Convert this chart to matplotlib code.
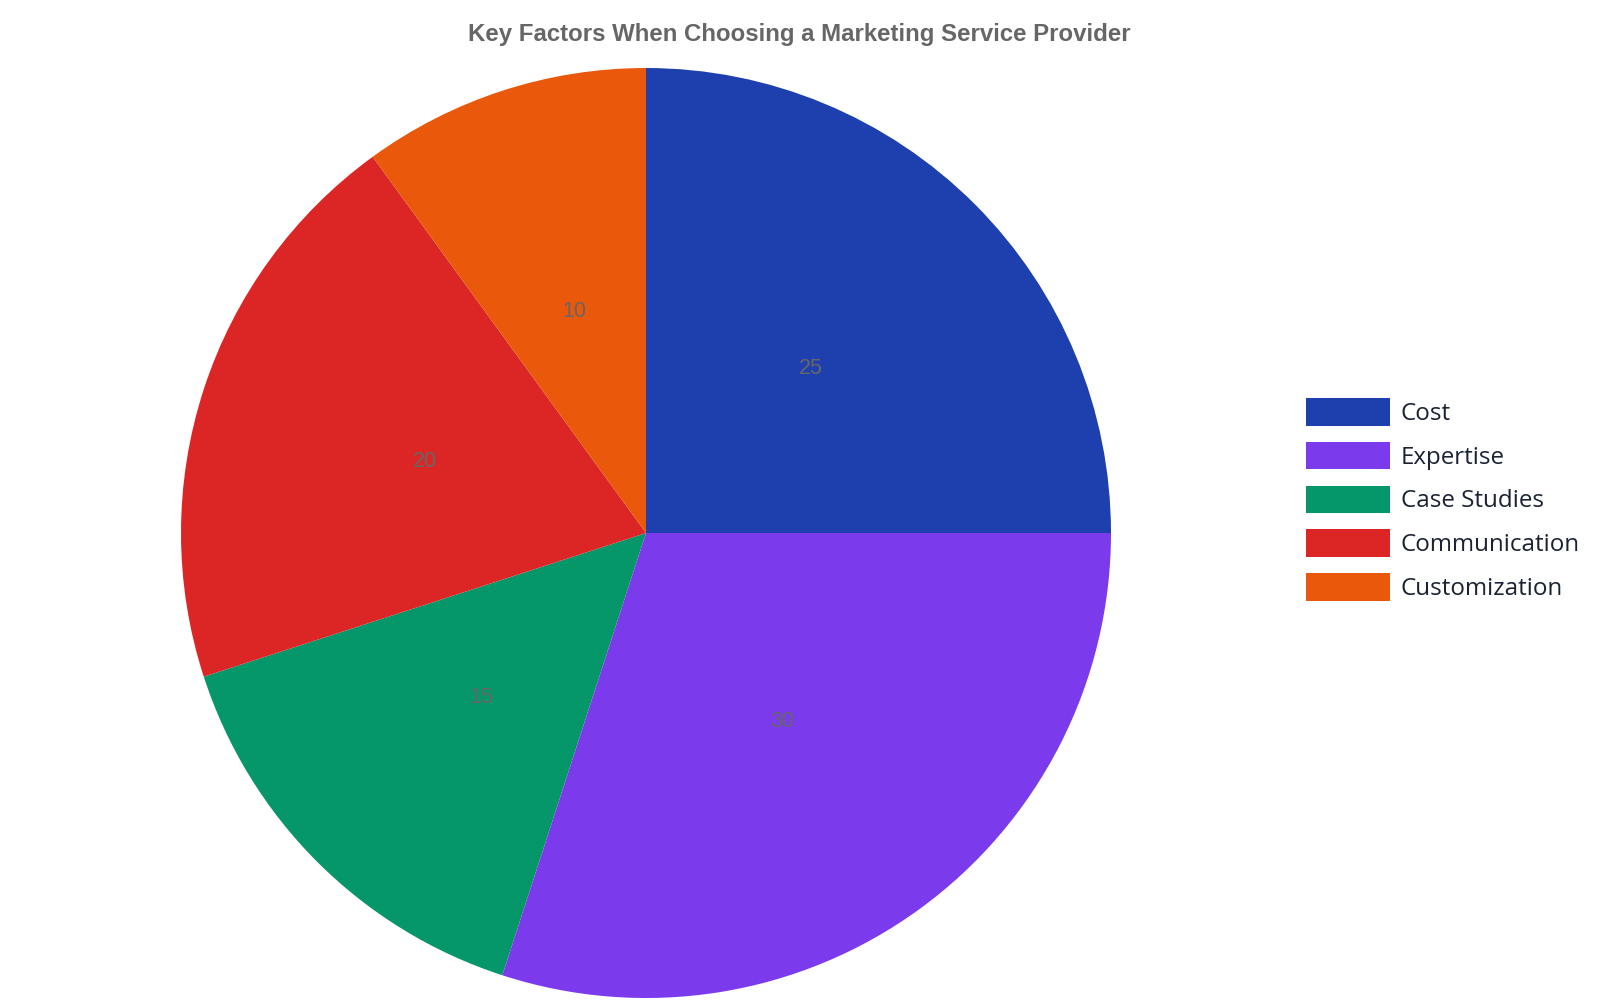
import matplotlib
matplotlib.use('Agg')
import matplotlib.pyplot as plt
from matplotlib.patches import Patch

# data
categories = ['Cost', 'Expertise', 'Case Studies', 'Communication', 'Customization']
values = [25, 30, 15, 20, 10]
colors = ['#1e40af', '#7c3aed', '#059669', '#dc2626', '#ea580c']
title = 'Key Factors When Choosing a Marketing Service Provider'

fig = plt.figure(figsize=(16, 10), dpi=100)
ax = fig.add_axes([0, 0, 1, 1])

# pie in pixel-like data coords (y axis flipped, so counterclock=True draws clockwise)
wedges, texts = ax.pie(values, colors=colors, startangle=-90, counterclock=True,
                       center=(646, 533), radius=465, labels=[str(v) for v in values],
                       labeldistance=0.5, frame=True,
                       textprops=dict(color='#666666', fontsize=15.5, family='Liberation Sans'),
                       wedgeprops=dict(linewidth=0))
for t in texts:
    t.set_ha('center')
    t.set_va('center')
ax.set_xlim(0, 1600)
ax.set_ylim(1000, 0)
ax.set_aspect('equal')
ax.axis('off')

fig.text(799 / 1600, 1 - 34 / 1000, title, ha='center', va='center',
         fontsize=17.3, fontweight='bold', color='#666666', family='Liberation Sans')

handles = [Patch(facecolor=c, edgecolor='none') for c in colors]
leg = fig.legend(handles, categories, loc='upper left',
                 bbox_to_anchor=(1306 / 1600, 1 - 398 / 1000), frameon=False,
                 prop=dict(family='Open Sans', size=17.4), handlelength=3.47,
                 handleheight=1.378, handletextpad=0.45, labelspacing=0.66,
                 borderpad=0, borderaxespad=0)
for t in leg.get_texts():
    t.set_color('#1a2233')

fig.savefig('out.png', dpi=100)
